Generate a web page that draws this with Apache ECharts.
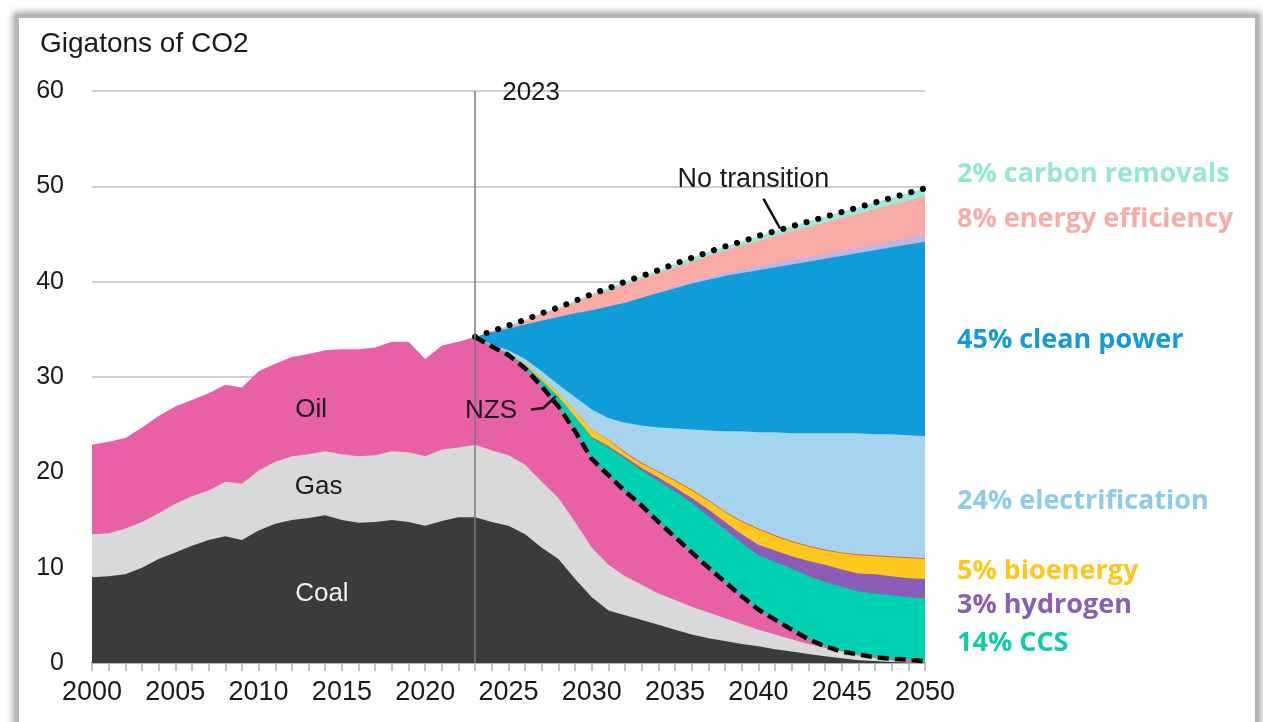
<!DOCTYPE html>
<html>
<head>
<meta charset="utf-8">
<script src="https://cdn.jsdelivr.net/npm/echarts@6/dist/echarts.min.js"></script>
<style>
  html, body { margin: 0; padding: 0; background: #fff; }
  #frame {
    position: absolute; left: 15px; top: 14px; width: 1236px; height: 760px;
    border: 4px solid #b4b4b4; box-shadow: 0 0 7px 2px rgba(0, 0, 0, 0.35); background: #fff;
  }
  #chart { position: absolute; left: 0; top: 0; width: 1263px; height: 722px; }
</style>
</head>
<body>
<div id="frame"></div>
<div id="chart"></div>
<script>
// years on the x axis
const years = []
for (let y = 2000; y <= 2050; y++) years.push(y)
const futureYears = years.filter(y => y >= 2023)

// y axis
const yMin = 0
const yMax = 60
const yStep = 10

// levels (top edge of each band, Gt CO2)
// history + NZS path, 2000-2050
const coalLevel = [9.0, 9.1, 9.3, 10.0, 10.9, 11.6, 12.3, 12.9, 13.3, 12.9, 13.9, 14.6, 15.0, 15.2, 15.5, 15.0, 14.7, 14.8, 15.0, 14.8, 14.4, 14.9, 15.3,
  15.3, 14.8, 14.4, 13.5, 12.1, 10.9, 8.8, 6.9, 5.5, 5.0, 4.5, 4.0, 3.5, 3.0, 2.6, 2.3, 2.0, 1.75, 1.45, 1.2, 0.95, 0.7, 0.5, 0.3, 0.2, 0.1, 0.05, 0]
const gasLevel = [13.5, 13.6, 14.1, 14.8, 15.7, 16.7, 17.5, 18.1, 19.0, 18.8, 20.2, 21.1, 21.7, 21.9, 22.2, 21.9, 21.7, 21.8, 22.2, 22.1, 21.7, 22.4, 22.6,
  22.9, 22.3, 21.8, 20.8, 19.0, 17.3, 14.8, 12.1, 10.3, 9.1, 8.2, 7.3, 6.6, 5.9, 5.3, 4.7, 4.1, 3.5, 3.0, 2.5, 2.0, 1.6, 1.2, 0.8, 0.5, 0.3, 0.1, 0]
const oilLevel = [22.9, 23.2, 23.6, 24.7, 25.9, 26.9, 27.6, 28.3, 29.2, 28.9, 30.6, 31.4, 32.1, 32.4, 32.8, 32.9, 32.9, 33.1, 33.7, 33.7, 31.9, 33.3, 33.7,
  34.2, 33.2, 32.3, 30.9, 29.0, 26.9, 24.3, 21.4, 19.7, 18.0, 16.5, 14.8, 13.2, 11.6, 10.0, 8.5, 7.0, 5.6, 4.55, 3.5, 2.5, 1.75, 1.2, 0.9, 0.6, 0.45, 0.35, 0.2]

// abatement wedges, 2023-2050
const ccsLevel = [34.2, 33.2, 32.4, 31.2, 29.6, 27.9, 25.8, 23.6, 22.6, 21.4, 20.2, 19.1, 18.0, 16.8, 15.4, 14.0, 12.6, 11.3, 10.6, 9.9, 9.1, 8.5, 8.0, 7.5, 7.3, 7.1, 6.9, 6.8]
const hydrogenLevel = [34.2, 33.2, 32.4, 31.2, 29.6, 27.9, 25.8, 23.7, 22.75, 21.6, 20.45, 19.45, 18.4, 17.3, 16.1, 14.8, 13.5, 12.4, 11.8, 11.2, 10.7, 10.3, 9.8, 9.4, 9.3, 9.1, 8.9, 8.8]
const bioenergyLevel = [34.2, 33.25, 32.5, 31.4, 29.9, 28.3, 26.4, 24.5, 23.4, 22.0, 20.9, 20.0, 19.1, 18.1, 17.0, 15.8, 14.8, 14.0, 13.3, 12.7, 12.2, 11.8, 11.5, 11.3, 11.2, 11.1, 11.0, 10.9]
const otherLevel = [34.2, 33.25, 32.5, 31.4, 29.9, 28.3, 26.4, 24.5, 23.45, 22.1, 21.0, 20.1, 19.2, 18.2, 17.1, 15.9, 14.9, 14.1, 13.4, 12.8, 12.3, 11.9, 11.6, 11.4, 11.3, 11.2, 11.1, 11.0]
const electrificationLevel = [34.2, 33.4, 32.8, 31.9, 30.6, 29.2, 27.9, 26.6, 25.7, 25.2, 24.9, 24.7, 24.6, 24.5, 24.4, 24.3, 24.3, 24.2, 24.2, 24.1, 24.1, 24.1, 24.1, 24.1, 24.0, 24.0, 23.9, 23.8]
const cleanPowerLevel = [34.2, 34.7, 35.1, 35.5, 35.9, 36.3, 36.7, 37.0, 37.4, 37.8, 38.3, 38.8, 39.3, 39.8, 40.2, 40.6, 40.9, 41.2, 41.5, 41.8, 42.1, 42.4, 42.7, 43.0, 43.3, 43.6, 43.9, 44.2]
const behaviourLevel = [34.2, 34.7, 35.1, 35.5, 35.9, 36.3, 36.7, 37.0, 37.4, 37.8, 38.3, 38.8, 39.4, 40.0, 40.4, 40.9, 41.2, 41.6, 41.9, 42.3, 42.6, 42.9, 43.2, 43.6, 43.9, 44.2, 44.6, 44.9]
const efficiencyLevel = [34.2, 34.8, 35.3, 35.9, 36.6, 37.2, 37.8, 38.5, 39.1, 39.7, 40.3, 40.9, 41.5, 42.1, 42.7, 43.3, 43.8, 44.3, 44.8, 45.3, 45.7, 46.2, 46.7, 47.1, 47.6, 48.1, 48.5, 49.0]
const noTransition = [34.2, 34.8, 35.4, 36.0, 36.7, 37.3, 38.0, 38.7, 39.3, 40.0, 40.6, 41.2, 41.9, 42.5, 43.1, 43.7, 44.2, 44.8, 45.3, 45.8, 46.3, 46.8, 47.3, 47.8, 48.3, 48.8, 49.3, 49.8]

const sideLabels = [
  { text: '2% carbon removals', color: '#95e6d6', at: 51.3 },
  { text: '8% energy efficiency', color: '#f9aba6', at: 46.5 },
  { text: '45% clean power', color: '#139bd9', at: 33.8 },
  { text: '24% electrification', color: '#8dcbeb', at: 17.0 },
  { text: '5% bioenergy', color: '#ffc61e', at: 9.65 },
  { text: '3% hydrogen', color: '#8b5cb8', at: 6.0 },
  { text: '14% CCS', color: '#12cca9', at: 2.1 }
]

const FONT = '"Liberation Sans", Arial, sans-serif'

function pairs(xs, vals) {
  return vals.map((v, i) => [xs[i], v])
}

// each band is drawn as an area down to zero; later series paint over earlier ones
function band(name, color, xs, vals) {
  return {
    name: name,
    type: 'line',
    data: pairs(xs, vals),
    symbol: 'none',
    silent: true,
    lineStyle: { width: 0 },
    itemStyle: { color: color },
    areaStyle: { color: color, opacity: 1 }
  }
}

const chart = echarts.init(document.getElementById('chart'))

chart.setOption({
  animation: false,
  grid: { left: 92, right: 338, top: 91, bottom: 59 },
  xAxis: {
    type: 'value',
    min: 2000,
    max: 2050,
    interval: 1,
    axisLine: { lineStyle: { color: '#b0b0b0', width: 2 } },
    axisTick: { length: 8, lineStyle: { color: '#b0b0b0', width: 1.5 } },
    splitLine: { show: false },
    axisLabel: {
      margin: 16,
      color: '#1a1a1a',
      fontSize: 27,
      fontFamily: FONT,
      formatter: v => (v % 5 === 0 ? String(v) : '')
    }
  },
  yAxis: {
    type: 'value',
    min: yMin,
    max: yMax,
    interval: yStep,
    axisLine: { show: false },
    axisTick: { show: false },
    splitLine: { lineStyle: { color: '#cfcfcf', width: 2 } },
    axisLabel: { margin: 28, color: '#1a1a1a', fontSize: 25, fontFamily: FONT }
  },
  series: [
    band('carbon removals', '#9be9da', futureYears, noTransition),
    band('energy efficiency', '#f9aba6', futureYears, efficiencyLevel),
    band('behaviour', '#c2b3e3', futureYears, behaviourLevel),
    band('clean power', '#109bd9', futureYears, cleanPowerLevel),
    band('electrification', '#a6d4ee', futureYears, electrificationLevel),
    band('other', '#ea5a3a', futureYears, otherLevel),
    band('bioenergy', '#ffc81e', futureYears, bioenergyLevel),
    band('hydrogen', '#8b5cb8', futureYears, hydrogenLevel),
    band('CCS', '#00d1b3', futureYears, ccsLevel),
    band('Oil', '#e860a6', years, oilLevel),
    band('Gas', '#d9d9d9', years, gasLevel),
    Object.assign(band('Coal', '#3b3b3b', years, coalLevel), {
      markLine: {
        silent: true,
        symbol: 'none',
        label: { show: false },
        lineStyle: { color: '#7a7a7a', width: 1.5, type: 'solid' },
        data: [{ xAxis: 2023 }]
      }
    }),
    {
      name: 'NZS',
      type: 'line',
      data: pairs(futureYears, oilLevel.slice(23)),
      symbol: 'none',
      silent: true,
      lineStyle: { color: '#000', width: 4.5, type: [11, 6] }
    },
    {
      name: 'No transition',
      type: 'line',
      data: pairs(futureYears, noTransition),
      symbol: 'none',
      silent: true,
      lineStyle: { color: '#000', width: 6, type: [0.1, 12], cap: 'round' }
    }
  ]
})

// annotations placed through the axes' own scales
const px = (x, y) => chart.convertToPixel({ gridIndex: 0 }, [x, y])

function label(text, pos, opts) {
  return {
    type: 'text',
    z: 100,
    style: Object.assign({
      text: text,
      x: pos[0],
      y: pos[1],
      font: '26px ' + FONT,
      fill: '#1a1a1a',
      align: 'center',
      verticalAlign: 'middle'
    }, opts || {})
  }
}

function leader(points) {
  return {
    type: 'polyline',
    z: 100,
    shape: { points: points.map(p => px(p[0], p[1])) },
    style: { stroke: '#111', lineWidth: 2.5, fill: null }
  }
}

const top2023 = px(2023, 60)
const rightEdge = px(2050, 0)[0]

const graphics = [
  label('Gigatons of CO2', [40, 44], { align: 'left', font: '28px ' + FONT }),
  label('2023', [top2023[0] + 27, top2023[1] + 2], { align: 'left' }),
  label('No transition', px(2039.7, 50.7), { font: '27px ' + FONT }),
  leader([[2040.3, 48.7], [2041.3, 45.6]]),
  label('NZS', px(2023.95, 26.4)),
  leader([[2026.35, 26.6], [2027.1, 26.75], [2027.85, 28.0]]),
  label('Oil', px(2013.15, 26.55)),
  label('Gas', px(2013.6, 18.5)),
  label('Coal', px(2013.8, 7.25), { fill: '#f2f2f2' })
]

sideLabels.forEach(s => {
  graphics.push(label(s.text, [rightEdge + 32, px(2050, s.at)[1]], {
    align: 'left',
    fill: s.color,
    font: 'bold 27px "Open Sans", ' + FONT
  }))
})

chart.setOption({ graphic: graphics })
</script>
</body>
</html>
